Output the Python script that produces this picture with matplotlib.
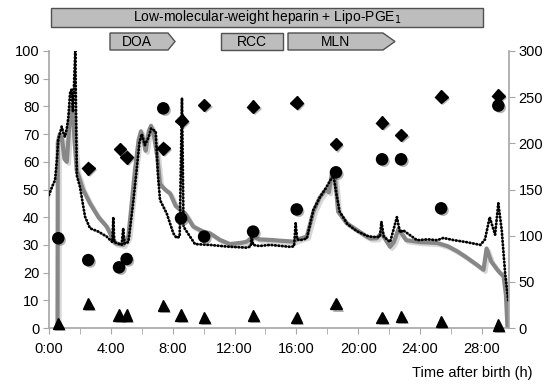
import matplotlib
matplotlib.use('Agg')
import matplotlib.pyplot as plt
import matplotlib.patheffects as pe
from matplotlib.patches import Polygon, Rectangle

plt.rcParams['font.family'] = ['Liberation Sans', 'DejaVu Sans']

# gray trace (hours, left-axis units)
gray_h = [0.55, 0.57, 0.7, 0.85, 1.0, 1.15, 1.3, 1.45, 1.55, 1.65, 1.79, 2.2, 2.65, 3.2,
          3.73, 4.27, 4.8, 5.13, 5.35, 5.56, 5.8, 5.95, 6.1, 6.25, 6.45, 6.6, 6.8, 7.0,
          7.18, 7.5, 7.83, 8.2, 8.8, 9.33, 9.98, 10.41, 11.06, 11.7, 12.5, 12.8, 13.2,
          13.6, 14.3, 15.0, 15.8, 16.1, 16.67, 17.1, 17.5, 17.9, 18.1, 18.3, 18.5, 18.7,
          19.26, 19.9, 20.55, 20.8, 21.2, 21.5, 22.06, 22.3, 22.6, 23.1, 24.0, 25.1,
          25.8, 26.4, 27.0, 27.7, 28.1, 28.3, 28.6, 29.0, 29.2, 29.4, 29.55, 29.65]
gray_v = [0, 67, 70, 68, 61, 60, 72, 80, 78, 68, 57, 50, 45, 40,
          36.6, 30.6, 30, 33, 45, 57, 68, 71, 68, 64, 71, 73, 69, 62,
          52, 50, 48.6, 44, 41.4, 36.6, 34.8, 34.2, 31.8, 30.3, 30.8, 31.2, 33,
          32, 31.8, 31.5, 31.2, 32, 33, 42, 47, 50, 49, 55.8, 54, 42,
          37.8, 35.4, 33, 32.3, 32.4, 34.3, 29.3, 31, 35.7, 31.7, 31, 30.7,
          29.5, 27.7, 25.5, 22.7, 21, 28.7, 24, 21, 19.7, 18.7, 12, 0.3]

# black dotted trace
black_h = [0.0, 0.2, 0.39, 0.5, 0.6, 0.82, 0.95, 1.03, 1.15, 1.25, 1.36, 1.45, 1.55, 1.7,
           1.8, 2.0, 2.33, 2.65, 3.19, 3.73, 4.1, 4.16, 4.22, 4.7, 4.8, 4.88, 5.13, 5.44,
           5.67, 5.85, 6.0, 6.2, 6.45, 6.6, 6.9, 7.05, 7.18, 7.61, 8.04, 8.25, 8.45, 8.6,
           8.7, 9.12, 9.44, 10.41, 11.5, 12.8, 13.05, 13.1, 13.2, 13.6, 14.3, 15.6, 15.85,
           15.95, 16.05, 16.24, 16.67, 17.1, 17.53, 17.85, 18.2, 18.4, 18.6, 18.8, 19.3,
           19.9, 20.55, 20.8, 21.2, 21.4, 21.5, 21.65, 22.06, 22.5, 22.7, 22.9, 23.8, 24.5,
           25.1, 25.5, 26.2, 27.0, 27.9, 28.2, 28.5, 28.85, 29.06, 29.28, 29.5, 29.7]
black_v = [48, 51, 53.4, 60, 68, 72.7, 70, 69, 72, 76, 84.7, 86, 78, 100,
           55, 51, 40.2, 36, 34.8, 33, 31, 40, 31, 30, 36, 30.5, 31, 45,
           57, 67, 70, 66, 69, 72, 71, 55, 46.2, 41.4, 34.2, 32.5, 33, 83,
           36.6, 33, 30.3, 30, 29.4, 29, 29.5, 33.5, 30, 29.6, 30, 29.3, 29.5,
           37.8, 32, 31.7, 32.3, 42.6, 47.3, 50, 53.4, 55, 48, 42, 37.5,
           35, 33.3, 33, 32.8, 33, 38.3, 33, 31, 40, 34.5, 35.3, 31.7, 32,
           31.7, 32.5, 31.7, 31, 30, 32, 40, 33.7, 45, 35.3, 19.7, 10]

diam_h = [2.54, 4.59, 5.02, 7.39, 8.58, 10.03, 13.2, 16.02, 18.56, 21.54, 22.77, 25.36, 29.06]
diam_v = [57.7, 64.6, 61.6, 64.9, 74.8, 80.5, 79.9, 81.3, 66.4, 74.1, 69.7, 83.5, 83.8]

circ_h = [0.6, 2.54, 4.53, 5.02, 7.39, 8.54, 10.03, 13.2, 16.02, 18.56, 21.54, 22.77, 25.36, 29.06]
circ_v = [32.4, 24.5, 21.9, 24.9, 79.3, 39.6, 33.0, 34.8, 42.8, 56.2, 60.9, 60.9, 43.2, 80.3]

tri_h = [0.6, 2.54, 4.53, 5.02, 7.39, 8.54, 10.03, 13.2, 16.02, 18.56, 21.54, 22.77, 25.36, 29.06]
tri_v = [1.7, 8.9, 4.7, 4.7, 8.0, 4.7, 3.9, 4.5, 3.9, 8.7, 3.9, 4.3, 2.3, 1.1]

x_ticks = list(range(0, 29, 4))
x_labels = ['%d:00' % t for t in x_ticks]

W, H = 548, 385
fig = plt.figure(figsize=(W / 100, H / 100), dpi=100)
ax = fig.add_axes([49 / W, 1 - 328 / H, 460 / W, 277 / H])
ax2 = ax.twinx()

shadow_line = [pe.SimpleLineShadow(offset=(1.5, -1.5), shadow_color='0.75', alpha=0.6), pe.Normal()]
shadow_mark = [pe.SimplePatchShadow(offset=(1.5, -1.5), shadow_rgbFace='0.4', alpha=0.5), pe.Normal()]

ax.plot(gray_h, gray_v, color='#878787', lw=3.0, solid_joinstyle='round', path_effects=shadow_line, zorder=2)
ax.plot(black_h, black_v, color='black', lw=2.0, linestyle=(0, (0.25, 1.0)), dash_capstyle='round',
        zorder=3)

ax.plot(diam_h, diam_v, 'D', color='black', ms=6.5, path_effects=shadow_mark, zorder=4)
ax.plot(circ_h, circ_v, 'o', color='black', ms=8, path_effects=shadow_mark, zorder=4)
ax.plot(tri_h, tri_v, '^', color='black', ms=8, path_effects=shadow_mark, zorder=4, clip_on=False)

ax.set_xlim(0, 29.75)
ax.set_ylim(0, 100)
ax2.set_ylim(0, 300)
ax.set_yticks(range(0, 101, 10))
ax2.set_yticks(range(0, 301, 50))
ax.set_xticks(x_ticks)
ax.set_xticklabels(x_labels)
ax.set_xticks(range(0, 29, 2), minor=True)

for a in (ax, ax2):
    for s in a.spines.values():
        s.set_visible(False)
ax.spines['left'].set_visible(True)
ax.spines['bottom'].set_visible(True)
ax2.spines['right'].set_visible(True)
for s in (ax.spines['left'], ax.spines['bottom'], ax2.spines['right']):
    s.set_color('#a6a6a6')
    s.set_linewidth(1.2)

ax.tick_params(axis='both', which='both', length=4, color='#a6a6a6', labelsize=10.5, pad=3)
ax.tick_params(axis='x', pad=6)
ax2.tick_params(axis='y', length=4, color='#a6a6a6', labelsize=10.5, pad=3)

fig.text(533 / W, 1 - 373 / H, 'Time after birth (h)', ha='right', va='center', fontsize=10.5)

# treatment banners (pixel layout converted to figure fraction)
def fx(p):
    return p / W

def fy(p):
    return 1 - p / H

box = dict(facecolor='#bdbdbd', edgecolor='#505050', linewidth=1.0, transform=fig.transFigure)
fig.add_artist(Rectangle((fx(51), fy(27)), fx(483) - fx(51), fy(8) - fy(27), **box))
fig.text(fx(267), fy(17.5), 'Low-molecular-weight heparin + Lipo-PGE$_1$', ha='center', va='center', fontsize=10)

def arrow(x0, x1, tip):
    pts = [(fx(x0), fy(33)), (fx(x1), fy(33)), (fx(tip), fy(41.5)), (fx(x1), fy(50)), (fx(x0), fy(50))]
    fig.add_artist(Polygon(pts, closed=True, **box))

arrow(110, 168, 175)
fig.text(fx(137), fy(41.5), 'DOA', ha='center', va='center', fontsize=10)
fig.add_artist(Rectangle((fx(221), fy(50)), fx(283) - fx(221), fy(33) - fy(50), **box))
fig.text(fx(252), fy(41.5), 'RCC', ha='center', va='center', fontsize=10)
arrow(288, 383, 395)
fig.text(fx(336), fy(41.5), 'MLN', ha='center', va='center', fontsize=10)

fig.savefig('out.png', dpi=100)
